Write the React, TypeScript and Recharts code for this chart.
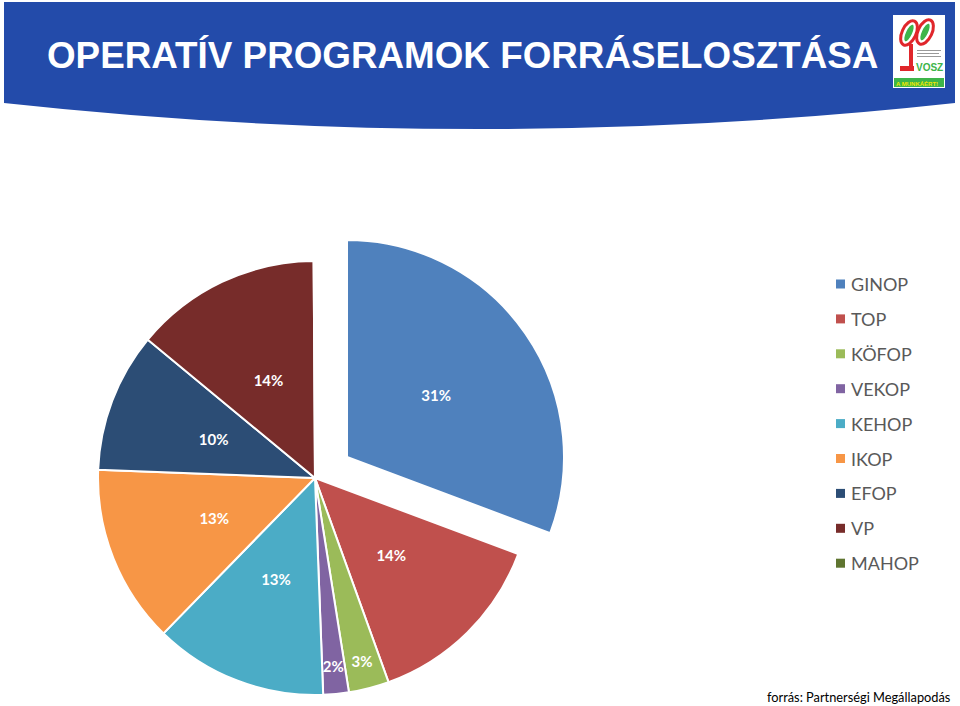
import React from "react";
import { PieChart, Pie, Cell } from "recharts";

const programs = ["GINOP", "TOP", "KÖFOP", "VEKOP", "KEHOP", "IKOP", "EFOP", "VP", "MAHOP"];
const shares = [30.7, 13.8, 3.0, 1.9, 12.9, 13.3, 10.4, 13.9, 0.1];
const colors = [
  "#4F81BD",
  "#C0504D",
  "#9BBB59",
  "#8064A2",
  "#4BACC6",
  "#F79646",
  "#2C4D75",
  "#772C2A",
  "#5F7530",
];

const TITLE = "OPERATÍV PROGRAMOK FORRÁSELOSZTÁSA";
const SOURCE = "forrás: Partnerségi Megállapodás";

const data = programs.map((name, i) => ({ name, value: shares[i] }));

const RADIAN = Math.PI / 180;
const FONT = "Lato, 'Open Sans', sans-serif";

// exploded slice index (GINOP)
const EXPLODED = 0;

function makeLabel(onlyExploded: boolean) {
  return (props: any) => {
    const { cx, cy, midAngle, outerRadius, percent, index } = props;
    if ((index === EXPLODED) !== onlyExploded) return null;
    const pct = percent * 100;
    if (pct < 1) return null;
    const r = pct < 5 ? outerRadius * 0.87 : outerRadius * 0.5;
    const x = cx + r * Math.cos(-midAngle * RADIAN);
    const y = cy + r * Math.sin(-midAngle * RADIAN);
    return (
      <text
        x={x}
        y={y}
        fill="#ffffff"
        textAnchor="middle"
        dominantBaseline="central"
        fontFamily={FONT}
        fontWeight={700}
        fontSize={15}
      >
        {`${Math.round(pct)}%`}
      </text>
    );
  };
}

function Header() {
  return (
    <svg width={960} height={140} style={{ position: "absolute", left: 0, top: 0 }}>
      <path d="M4,2 H955 V103 Q480,155 4,103 Z" fill="#234BAA" />
      <text
        x={47}
        y={68}
        fill="#ffffff"
        fontFamily="'Liberation Sans', Arial, sans-serif"
        fontWeight={700}
        fontSize={36.8}
      >
        {TITLE}
      </text>
      {/* logo */}
      <rect x={893} y={15} width={52} height={73} fill="#ffffff" />
      <ellipse cx={909} cy={33} rx={7} ry={13} fill="none" stroke="#E0262B" strokeWidth={3} transform="rotate(25 909 33)" />
      <ellipse cx={925} cy={32} rx={7} ry={13} fill="none" stroke="#E0262B" strokeWidth={3} transform="rotate(25 925 32)" />
      <ellipse cx={909} cy={33} rx={3} ry={9} fill="#3DB54A" transform="rotate(25 909 33)" />
      <ellipse cx={925} cy={32} rx={3} ry={9} fill="#3DB54A" transform="rotate(25 925 32)" />
      <rect x={909} y={44} width={4} height={26} fill="#E0262B" />
      <rect x={900} y={66} width={14} height={5} fill="#E0262B" />
      <rect x={917} y={50} width={24} height={1} fill="#999999" />
      <rect x={917} y={53} width={22} height={1} fill="#999999" />
      <rect x={917} y={56} width={24} height={1} fill="#999999" />
      <text x={916} y={71} fontSize={10} fontWeight={700} fill="#3DB54A" fontFamily="'Liberation Sans', sans-serif">VOSZ</text>
      <rect x={894} y={78} width={50} height={9} fill="#3DB54A" />
      <text x={896} y={85.5} fontSize={6} fontWeight={700} fill="#F2E600" fontFamily="'Liberation Sans', sans-serif">A MUNKÁÉRT!</text>
    </svg>
  );
}

function LegendBox() {
  const top = 284;
  const step = 34.9;
  return (
    <svg width={140} height={330} style={{ position: "absolute", left: 820, top: 260 }}>
      {programs.map((name, i) => {
        const cy = top - 260 + i * step;
        return (
          <g key={name}>
            <rect x={836 - 820} y={cy - 4.5} width={9} height={9} fill={colors[i]} />
            <text
              x={851 - 820}
              y={cy}
              dominantBaseline="central"
              fontFamily={FONT}
              fontSize={18}
              fill="#595959"
            >
              {name}
            </text>
          </g>
        );
      })}
    </svg>
  );
}

export default function App() {
  return (
    <div
      style={{
        position: "absolute",
        left: 0,
        top: 0,
        width: 960,
        height: 706,
        background: "#ffffff",
        overflow: "hidden",
      }}
    >
      <div style={{ position: "absolute", left: 0, top: 0 }}>
        <PieChart width={960} height={706} margin={{ top: 0, right: 0, bottom: 0, left: 0 }}>
          <Pie
            data={data}
            dataKey="value"
            nameKey="name"
            cx={315}
            cy={478}
            outerRadius={217}
            startAngle={90}
            endAngle={-270}
            stroke="#ffffff"
            strokeWidth={2}
            label={makeLabel(false)}
            labelLine={false}
            isAnimationActive={false}
          >
            {data.map((d, i) => (
              <Cell
                key={d.name}
                fill={i === EXPLODED ? "none" : colors[i]}
                stroke={i === EXPLODED ? "none" : "#ffffff"}
              />
            ))}
          </Pie>
          <Pie
            data={data}
            dataKey="value"
            nameKey="name"
            cx={347}
            cy={457}
            outerRadius={217}
            startAngle={90}
            endAngle={-270}
            stroke="#ffffff"
            strokeWidth={2}
            label={makeLabel(true)}
            labelLine={false}
            isAnimationActive={false}
          >
            {data.map((d, i) => (
              <Cell
                key={d.name}
                fill={i === EXPLODED ? colors[i] : "none"}
                stroke={i === EXPLODED ? "#ffffff" : "none"}
              />
            ))}
          </Pie>
        </PieChart>
      </div>
      <Header />
      <LegendBox />
      <svg width={200} height={20} style={{ position: "absolute", left: 760, top: 686 }}>
        <text x={7} y={16} fontFamily={FONT} fontSize={12.8} fill="#000000">
          {SOURCE}
        </text>
      </svg>
    </div>
  );
}
